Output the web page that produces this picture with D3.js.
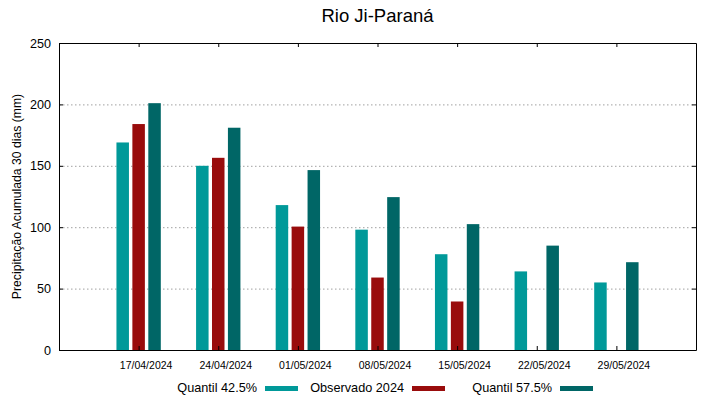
<!DOCTYPE html>
<html>
<head>
<meta charset="utf-8">
<script src="https://cdn.jsdelivr.net/npm/d3@7"></script>
<style>
  body { margin: 0; background: #fff; }
  svg { font-family: "Liberation Sans", Arial, sans-serif; }
  .grid line { stroke: #a0a0a0; stroke-dasharray: 1.5,2.5; }
  .grid .domain { display: none; }
</style>
</head>
<body>
<div id="chart"></div>
<script>
const dates = ['17/04/2024', '24/04/2024', '01/05/2024', '08/05/2024', '15/05/2024', '22/05/2024', '29/05/2024'];
const quantil425 = [169, 150, 118, 98, 78, 64, 55];
const observado = [184, 156.5, 100.5, 59, 39.5, null, null];
const quantil575 = [201, 181, 146.5, 124.5, 102.5, 85, 71.5];
const yTicks = [0, 50, 100, 150, 200, 250];

const series = [
  { name: 'Quantil 42.5%', values: quantil425, color: '#009999', offset: -1 },
  { name: 'Observado 2024', values: observado, color: '#990c0c', offset: 0 },
  { name: 'Quantil 57.5%', values: quantil575, color: '#006666', offset: 1 }
];

const width = 719, height = 399;
const margin = { top: 43, right: 23, bottom: 49, left: 59 };
const w = width - margin.left - margin.right;
const h = height - margin.top - margin.bottom;

const svg = d3.select('#chart').append('svg')
  .attr('width', width)
  .attr('height', height);

const g = svg.append('g')
  .attr('transform', `translate(${margin.left},${margin.top})`);

// x is the category index, with one empty slot each side
const x = d3.scaleLinear().domain([-1, dates.length]).range([0, w]);
const y = d3.scaleLinear().domain([0, 250]).range([h, 0]);
const step = x(1) - x(0);
const barW = step * 0.157;
const barGap = step * 0.2;

// dotted grid
g.append('g')
  .attr('class', 'grid')
  .call(d3.axisRight(y).tickValues(yTicks.filter(d => d > 0 && d < 250)).tickSize(w - 1).tickFormat(''));

// bars
series.forEach(s => {
  g.append('g').selectAll('rect')
    .data(s.values.map((v, i) => ({ v, i })).filter(d => d.v != null))
    .join('rect')
    .attr('x', d => x(d.i) + s.offset * barGap - barW / 2)
    .attr('y', d => y(d.v))
    .attr('width', barW)
    .attr('height', d => h - y(d.v))
    .attr('fill', s.color);
});

// axes (ticks point inward, mirrored on top and right)
const yLeft = g.append('g')
  .call(d3.axisLeft(y).tickValues(yTicks).tickSizeInner(-4).tickSizeOuter(0).tickPadding(8));
yLeft.selectAll('text').attr('font-size', 12.6).attr('fill', '#000').attr('font-family', null);

g.append('g')
  .attr('transform', `translate(${w},0)`)
  .call(d3.axisRight(y).tickValues(yTicks).tickSizeInner(-4).tickSizeOuter(0).tickFormat(''));

const xBottom = g.append('g')
  .attr('transform', `translate(0,${h})`)
  .call(d3.axisBottom(x).tickValues(d3.range(dates.length)).tickFormat(i => dates[i])
    .tickSizeInner(-4).tickSizeOuter(0).tickPadding(12));
xBottom.selectAll('text').attr('font-size', 10.5).attr('fill', '#000').attr('dx', 7).attr('font-family', null);

g.append('g')
  .call(d3.axisTop(x).tickValues(d3.range(dates.length)).tickFormat('')
    .tickSizeInner(-4).tickSizeOuter(0));

g.selectAll('.domain').filter(function () { return !this.closest('.grid'); })
  .attr('stroke', '#000').attr('stroke-width', 1);
g.selectAll('.tick line').filter(function () { return !this.closest('.grid'); })
  .attr('stroke', '#000');

// title
svg.append('text')
  .attr('x', margin.left + w / 2)
  .attr('y', 22)
  .attr('text-anchor', 'middle')
  .attr('font-size', 18.5)
  .text('Rio Ji-Paraná');

// y label
svg.append('text')
  .attr('transform', `translate(21,${margin.top + h / 2}) rotate(-90)`)
  .attr('text-anchor', 'middle')
  .attr('font-size', 12.2)
  .text('Precipitação Acumulada 30 dias (mm)');

// legend
const legendX = [257, 404, 552];
const legend = svg.append('g');
series.forEach((s, i) => {
  legend.append('text')
    .attr('x', legendX[i])
    .attr('y', 392)
    .attr('text-anchor', 'end')
    .attr('font-size', 12.7)
    .text(s.name);
  legend.append('rect')
    .attr('x', legendX[i] + 8)
    .attr('y', 386)
    .attr('width', 33)
    .attr('height', 5)
    .attr('fill', s.color);
});
</script>
</body>
</html>
